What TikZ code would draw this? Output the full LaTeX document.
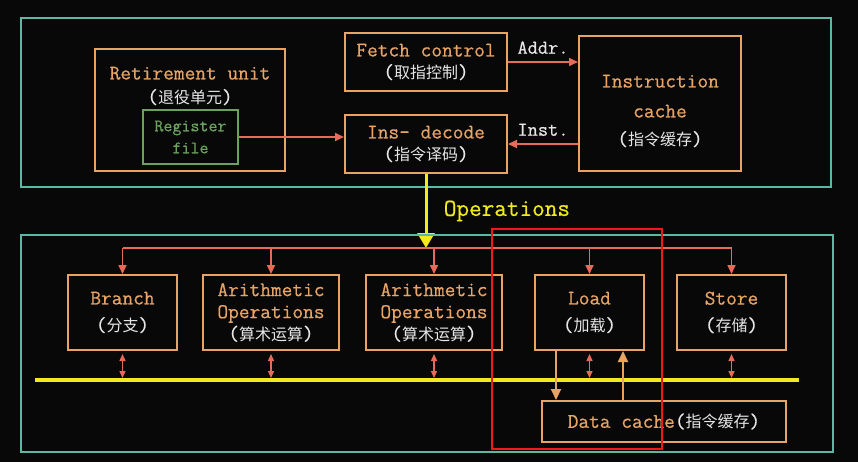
\documentclass[tikz,border=0pt]{standalone}
\usepackage{fontspec}
\setmonofont{Latin Modern Mono}[FakeBold=0.6]
\newfontfamily\cjk{Noto Sans CJK SC}
\usetikzlibrary{positioning,arrows.meta,calc}
\definecolor{bgc}{HTML}{080808}
\definecolor{tealc}{HTML}{5CB8A2}
\definecolor{sandc}{HTML}{E8A464}
\definecolor{redc}{HTML}{E86A58}
\definecolor{greenc}{HTML}{6BA35E}
\definecolor{yelc}{HTML}{F2EA1E}
\definecolor{inkc}{HTML}{E6E6E6}
\definecolor{markc}{HTML}{F01818}
\newcommand{\zh}[1]{{\color{inkc}({\cjk\fontsize{16}{20}\selectfont #1})}}
\tikzset{>=stealth,
  unit/.style={draw=sandc,line width=2pt,text=sandc,align=center,inner sep=0pt,
    font=\ttfamily\fontsize{20.8}{22}\selectfont},
  regbox/.style={draw=greenc,line width=2pt,text=greenc,align=center,inner sep=0pt,
    font=\ttfamily\fontsize{17.5}{22}\selectfont},
  frame/.style={draw=tealc,line width=2pt},
  link/.style={-{Triangle[length=9pt,width=8pt]},draw=redc,line width=1.6pt},
  duplex/.style={{Triangle[length=7pt,width=6pt]}-{Triangle[length=7pt,width=6pt]},draw=redc,line width=1.4pt},
  feed/.style={-{Triangle[length=11pt,width=10pt]},draw=sandc,line width=2pt},
  tag/.style={text=inkc,font=\ttfamily\fontsize{19.8}{22}\selectfont},
}

\begin{document}
\begin{tikzpicture}[x=1pt,y=-1pt]
\useasboundingbox (0,0) rectangle (858,462);
\fill[bgc] (0,0) rectangle (858,462);
% front end
\draw[frame] (21,18) rectangle (831,187);
\node[unit,minimum width=190pt,minimum height=122pt] (retire) at (190,110) {};
\node[text=sandc,align=center,font=\ttfamily\fontsize{20.8}{24}\selectfont] (retiretxt) at (190,86) {Retirement unit\\\zh{退役单元}};
\node[regbox,minimum width=95pt,minimum height=54pt] (regf) at (190.5,137) {Register\\file};
\node[unit,minimum width=162pt,minimum height=58pt] (fetch) at (426,62) {Fetch control\\\zh{取指控制}};
\node[unit,minimum width=162pt,minimum height=58pt] (decode) at (426,144) {Ins- decode\\\zh{指令译码}};
\node[unit,minimum width=162pt,minimum height=135pt] (icache) at (660,103.5) {};
\node[text=sandc,align=center,font=\ttfamily\fontsize{20.8}{22}\selectfont] (icachetxt) at (660,111) {Instruction\\[8pt]cache\\[6pt]\zh{指令缓存}};
\draw[link] (fetch.east) -- node[tag,above=4pt] (addr) {Addr.} (icache.west |- fetch.east);
\draw[link] (icache.west |- decode.east) -- node[tag,above=4pt] (inst) {Inst.} (decode.east);
\draw[link] (regf.east) -- (regf.east -| decode.west);
% operations
\coordinate (hub) at (426,248);
\draw[yelc,line width=3pt,-{Triangle[length=15pt,width=17pt]}] (decode.south) -- node[right=13pt,text=yelc,font=\ttfamily\fontsize{24.5}{26}\selectfont] (ops) {Operations} (hub);
% execution units
\draw[frame] (21,235) rectangle (833,452);
\node[unit,minimum width=109pt,minimum height=75pt] (branch) at (122.5,312.5) {Branch\\[5pt]\zh{分支}};
\node[unit,minimum width=136pt,minimum height=75pt] (arith1) at (271,312.5) {Arithmetic\\Operations\\\zh{算术运算}};
\node[unit,minimum width=136pt,minimum height=75pt] (arith2) at (434,312.5) {Arithmetic\\Operations\\\zh{算术运算}};
\node[unit,minimum width=109pt,minimum height=75pt] (load) at (589.5,312.5) {Load\\[5pt]\zh{加载}};
\node[unit,minimum width=109pt,minimum height=75pt] (store) at (731.5,312.5) {Store\\[5pt]\zh{存储}};
\node[unit,minimum width=244pt,minimum height=41pt] (dcache) at (664,421.5) {Data cache\zh{指令缓存}};
\draw[redc,line width=1.6pt] (branch.north |- hub) -- (store.north |- hub);
\foreach \u in {branch,arith1,arith2,load,store}
  \draw[link] (\u.north |- hub) -- (\u.north);
\coordinate (busl) at (35,380);
\coordinate (busr) at (799,380);
\draw[yelc,line width=3.5pt] (busl) -- (busr);
\foreach \u in {branch,arith1,arith2,load,store}
  \draw[duplex] ([yshift=-3pt]\u.south) -- ([yshift=2pt]\u.south |- busl);
\draw[feed] ([xshift=-33.5pt]load.south) -- ([xshift=-33.5pt]load.south |- dcache.north);
\draw[feed] ([xshift=33.5pt]load.south |- dcache.north) -- ([xshift=33.5pt]load.south);
% highlight
\draw[markc,line width=2.5pt] (492,229) rectangle (662,449);
\end{tikzpicture}
\end{document}
